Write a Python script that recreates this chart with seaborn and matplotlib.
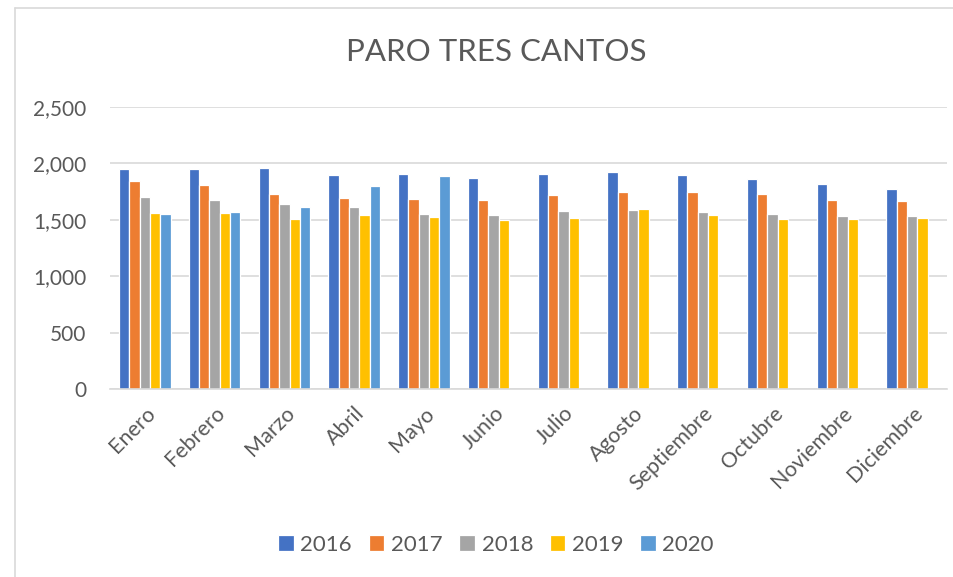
import numpy as np
import pandas as pd
import matplotlib
matplotlib.use("Agg")
import matplotlib.pyplot as plt
import seaborn as sns
from matplotlib.ticker import FuncFormatter

meses = ["Enero", "Febrero", "Marzo", "Abril", "Mayo", "Junio", "Julio",
         "Agosto", "Septiembre", "Octubre", "Noviembre", "Diciembre"]
anios = ["2016", "2017", "2018", "2019", "2020"]

paro_2016 = [1950, 1950, 1959, 1897, 1906, 1868, 1906, 1923, 1897, 1862, 1818, 1771]
paro_2017 = [1844, 1806, 1732, 1694, 1682, 1676, 1715, 1744, 1747, 1727, 1676, 1667]
paro_2018 = [1703, 1676, 1635, 1609, 1553, 1544, 1579, 1585, 1570, 1550, 1529, 1535]
paro_2019 = [1562, 1556, 1506, 1544, 1526, 1494, 1518, 1597, 1544, 1509, 1506, 1518]
paro_2020 = [1550, 1570, 1617, 1800, 1891, np.nan, np.nan, np.nan, np.nan, np.nan, np.nan, np.nan]

colores = ["#4472C4", "#ED7D31", "#A5A5A5", "#FFC000", "#5B9BD5"]

# long form table
series = [paro_2016, paro_2017, paro_2018, paro_2019, paro_2020]
filas = []
for anio, valores in zip(anios, series):
    for mes, v in zip(meses, valores):
        filas.append({"Mes": mes, "Año": anio, "Paro": v})
df = pd.DataFrame(filas).dropna()

sns.set_style("white")
plt.rcParams["font.family"] = ["Lato", "DejaVu Sans"]
gris = "#595959"

fig = plt.figure(figsize=(9.54, 5.77), dpi=100)
ax = fig.add_axes([110 / 954, 1 - 389.3 / 577, 837 / 954, (389.3 - 106.7) / 577])

sns.barplot(data=df, x="Mes", y="Paro", hue="Año", order=meses, hue_order=anios,
            palette=colores, saturation=1, width=0.74, errorbar=None,
            edgecolor="white", linewidth=0.9, ax=ax)

ax.set_ylim(0, 2500)
ax.set_yticks(range(0, 2501, 500))
ax.yaxis.set_major_formatter(FuncFormatter(lambda v, p: f"{int(v):,}"))
ax.grid(axis="y", color="#D9D9D9", linewidth=1.2)
ax.set_axisbelow(True)
for s in ["top", "right", "left"]:
    ax.spines[s].set_visible(False)
ax.spines["bottom"].set_color("#D9D9D9")
ax.spines["bottom"].set_linewidth(1.2)
ax.tick_params(axis="both", length=0, colors=gris, labelsize=15)
ax.tick_params(axis="x", labelsize=15.5, pad=10)
ax.tick_params(axis="y", pad=17)
ax.set_xlabel("")
ax.set_ylabel("")
plt.setp(ax.get_xticklabels(), rotation=45, ha="right", rotation_mode="anchor")

fig.text(0.52, 1 - 52 / 577, "PARO TRES CANTOS", ha="center", va="center",
         fontsize=22.5, color=gris)

ax.legend_.remove()
handles, labels = ax.get_legend_handles_labels()
fig.legend(handles, labels, loc="center", bbox_to_anchor=(0.52, 1 - 545 / 577),
           ncol=5, frameon=False, fontsize=16, labelcolor=gris,
           handlelength=0.7, handleheight=0.7, handletextpad=0.3, columnspacing=0.75)

# chart border
fig.add_artist(plt.Line2D([15 / 954, 15 / 954], [0, 1 - 8 / 577], color="#D9D9D9", lw=1.2))
fig.add_artist(plt.Line2D([15 / 954, 1], [1 - 8 / 577, 1 - 8 / 577], color="#D9D9D9", lw=1.2))

fig.savefig("out.png", dpi=100)
